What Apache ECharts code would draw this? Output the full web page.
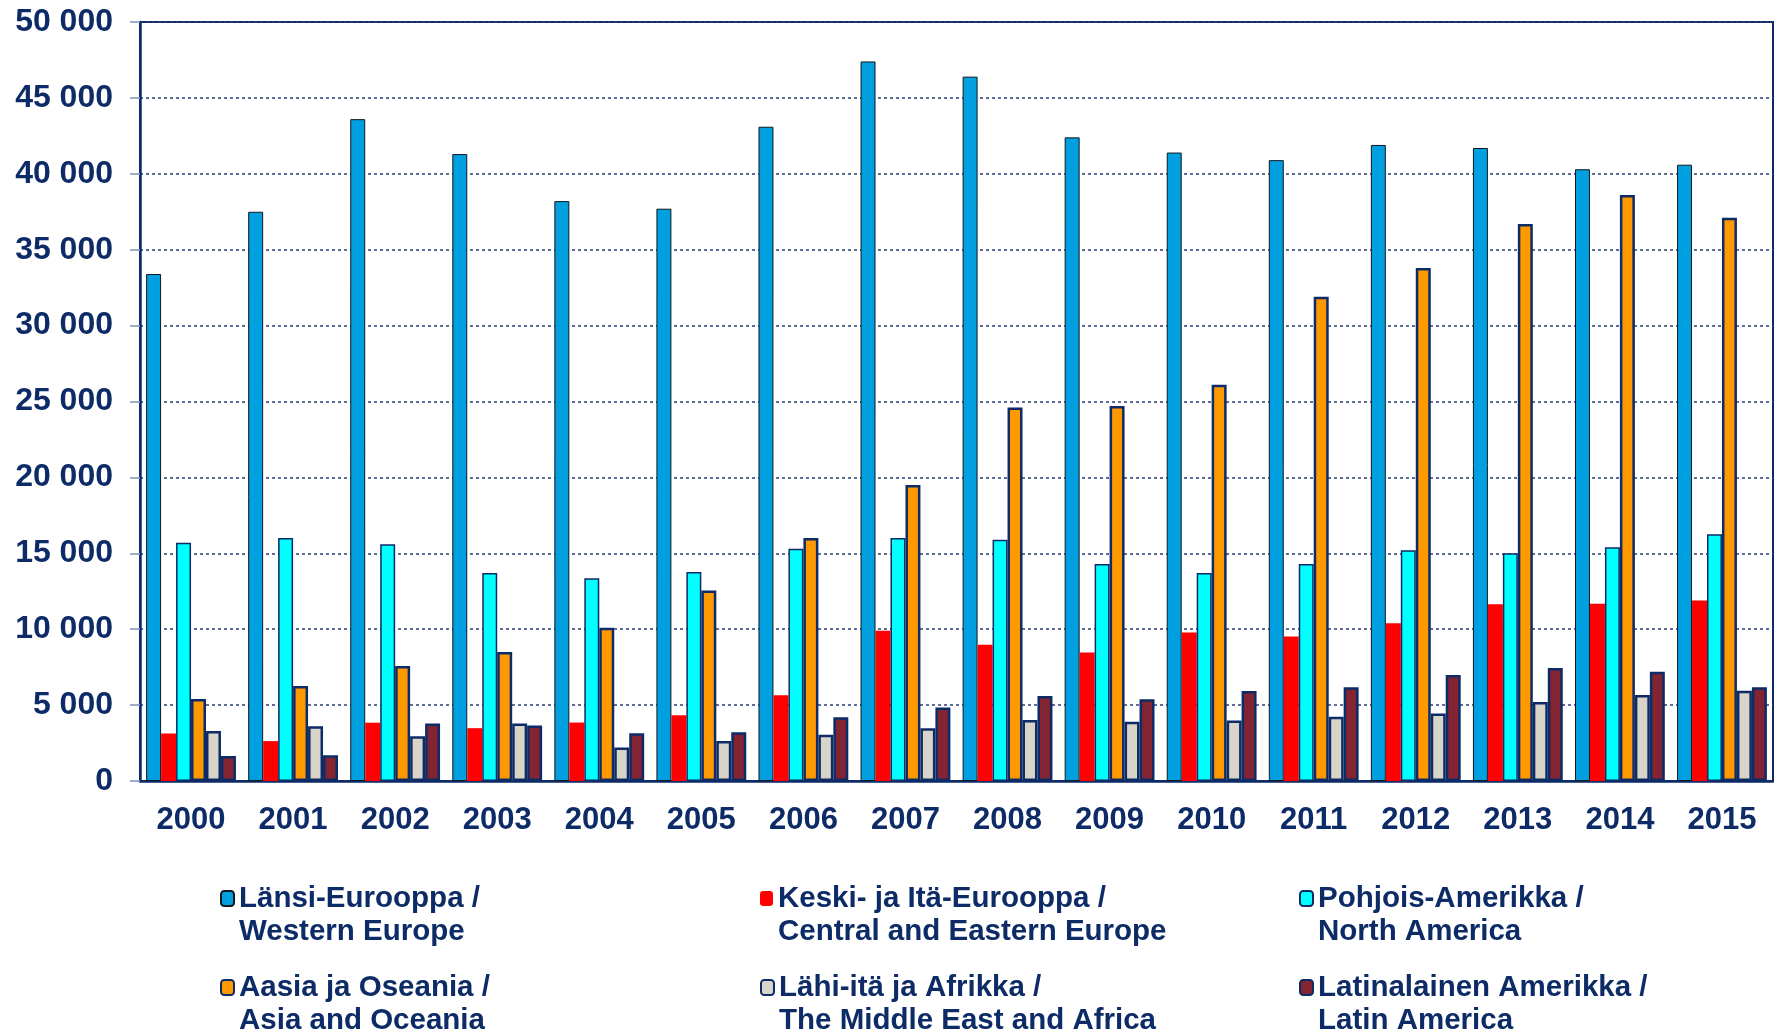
<!DOCTYPE html>
<html>
<head>
<meta charset="utf-8">
<title>Alueittain 2000-2015</title>
<script src="https://cdn.jsdelivr.net/npm/echarts@6/dist/echarts.min.js"></script>
<style>
  html, body { margin: 0; padding: 0; background: #fff; }
  #chart { width: 1774px; height: 1032px; }
</style>
</head>
<body>
<div id="chart"></div>
<script>
// vuodet (x-akseli)
const years = ['2000', '2001', '2002', '2003', '2004', '2005', '2006', '2007',
  '2008', '2009', '2010', '2011', '2012', '2013', '2014', '2015']

// sarjat luettu kuvasta
const westernEurope = [33400, 37500, 43600, 41300, 38200, 37700, 43100, 47400,
  46400, 42400, 41400, 40900, 41900, 41700, 40300, 40600]
const centralEastEurope = [3130, 2630, 3840, 3480, 3850, 4330, 5650, 9900,
  8970, 8460, 9780, 9520, 10400, 11650, 11670, 11890]
const northAmerica = [15700, 16000, 15600, 13700, 13360, 13760, 15300, 16000,
  15900, 14300, 13700, 14300, 15200, 15000, 15400, 16250]
const asiaOceania = [5400, 6260, 7580, 8500, 10100, 12550, 16000, 19500,
  24600, 24700, 26100, 31900, 33800, 36700, 38600, 37100]
const middleEastAfrica = [3300, 3610, 2950, 3790, 2200, 2640, 3050, 3470,
  4020, 3900, 3980, 4240, 4450, 5200, 5660, 5950]
const latinAmerica = [1650, 1700, 3790, 3660, 3140, 3210, 4200, 4840,
  5600, 5380, 5930, 6180, 6980, 7440, 7200, 6170]

const yTicks = { min: 0, max: 50000, interval: 5000 }

const navy = '#0D2B66'
const font = 'Liberation Sans, Arial, sans-serif'

// sarjojen nimet, värit ja reunukset
const seriesDefs = [
  { name: 'Länsi-Eurooppa /\nWestern Europe', data: westernEurope, color: '#009FDF', border: '#101820', bw: 1 },
  { name: 'Keski- ja Itä-Eurooppa /\nCentral and Eastern Europe', data: centralEastEurope, color: '#FF0000', border: '#FF0000', bw: 0 },
  { name: 'Pohjois-Amerikka /\nNorth America', data: northAmerica, color: '#00FFFF', border: navy, bw: 1.5 },
  { name: 'Aasia ja Oseania /\nAsia and Oceania', data: asiaOceania, color: '#FF9900', border: navy, bw: 2.5 },
  { name: 'Lähi-itä ja Afrikka /\nThe Middle East and Africa', data: middleEastAfrica, color: '#D8D4C8', border: navy, bw: 2.5 },
  { name: 'Latinalainen Amerikka /\nLatin America', data: latinAmerica, color: '#832433', border: navy, bw: 2.5 }
]

// selitteen paikat (sarake, rivi)
const legendCols = [215, 755, 1294]
const legendRows = [844, 933]
const legendOrder = [[0, 0], [1, 0], [2, 0], [0, 1], [1, 1], [2, 1]]

const chart = echarts.init(document.getElementById('chart'))

const legends = seriesDefs.map((s, i) => ({
  data: [s.name],
  left: legendCols[legendOrder[i][0]],
  top: legendRows[legendOrder[i][1]],
  itemWidth: 13,
  itemHeight: 15,
  selectedMode: false,
  // tyhjä rivi alkuun, jotta ikoni osuu ensimmäiselle riville
  formatter: name => '\n' + name,
  textStyle: {
    color: navy,
    fontFamily: font,
    fontWeight: 'bold',
    fontSize: 29.5,
    lineHeight: 33
  }
}))

const option = {
  animation: false,
  backgroundColor: '#fff',
  grid: {
    left: 140,
    right: 1,
    top: 22,
    bottom: 251,
    show: true,
    borderColor: navy,
    borderWidth: 2
  },
  legend: legends,
  xAxis: {
    type: 'category',
    data: years,
    axisLine: { lineStyle: { color: navy, width: 2.5 } },
    axisTick: { length: 10, lineStyle: { color: '#7F8FB5', width: 1.5 } },
    axisLabel: {
      color: navy,
      fontFamily: font,
      fontWeight: 'bold',
      fontSize: 31,
      margin: 24
    }
  },
  yAxis: {
    type: 'value',
    min: yTicks.min,
    max: yTicks.max,
    interval: yTicks.interval,
    axisLine: { show: true, lineStyle: { color: navy, width: 2.5 } },
    axisTick: { show: true, length: 10, lineStyle: { color: '#7F8FB5', width: 1.5 } },
    splitLine: { lineStyle: { color: '#2A3F78', width: 1.5, type: [3, 3] } },
    axisLabel: {
      color: navy,
      fontFamily: font,
      fontWeight: 'bold',
      fontSize: 32,
      margin: 27,
      // välilyönti tuhaterottimena
      formatter: v => String(v).replace(/\B(?=(\d{3})+(?!\d))/g, ' ')
    }
  },
  series: seriesDefs.map(s => ({
    name: s.name,
    type: 'bar',
    data: s.data,
    barGap: '0%',
    barCategoryGap: '12%',
    itemStyle: {
      color: s.color,
      borderColor: s.border,
      borderWidth: s.bw
    }
  }))
}

chart.setOption(option)
</script>
</body>
</html>
